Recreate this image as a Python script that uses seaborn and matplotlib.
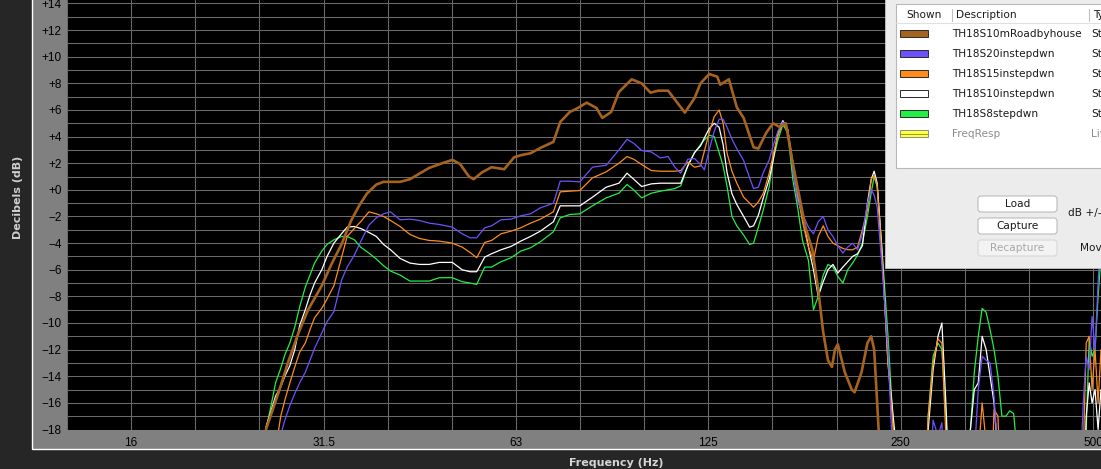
import matplotlib
matplotlib.use('Agg')
import matplotlib.pyplot as plt
import seaborn as sns
from matplotlib.patches import Rectangle, FancyBboxPatch

# Frequency grid (Hz) shared by the four thin traces
freq_hz = [
    25.6, 26.0, 26.5, 27.0, 27.4, 27.9, 28.4, 28.9, 29.5, 30.0, 30.5,
    31.3, 31.9, 32.7, 33.6, 34.3, 35.2, 36.0, 37.1, 38.1, 39.1, 40.1,
    41.5, 43.0, 44.5, 46.1, 47.8, 50.1, 51.9, 53.4, 54.7, 56.3, 57.7,
    59.7, 61.9, 64.1, 66.4, 68.8, 72.1, 73.9, 76.5, 79.3, 83.0, 87.2,
    91.3, 94.0, 96.3, 99.1, 102.6, 106.0, 109.0, 111.7, 114.1, 117.0, 119.9,
    122.5, 124.2, 126.4, 128.7, 131.0, 132.9, 134.8, 137.2, 139.6, 143.1, 146.2, 148.3, 150.9,
    153.6, 156.9, 159.1, 161.9, 164.8, 167.8, 170.8, 173.8, 176.9, 180.7, 184.0,
    187.2, 190.6, 193.9, 197.4, 200.9, 204.6, 208.2, 211.9, 215.7, 219.5, 223.5,
    226.6, 229.0, 231.5, 235.6, 240.7, 245.8, 254.6,
    273.3, 278.2, 283.2, 288.2, 292.3, 296.5, 301.8,
    318.3, 323.9, 328.5, 333.2, 337.9, 342.8, 347.7, 352.7, 357.7, 362.8,
    368.0, 373.2, 378.5, 383.9, 389.4,
    477.9, 486.3, 491.6, 496.9, 502.1, 507.5, 513.1, 518.5,
]

blue_db = [
    -25, -23, -20.5, -18.4, -17.3, -16.2, -15.3, -14.5, -13.7, -12.8, -11.9,
    -10.75, -9.9, -9.15, -6.8, -5.8, -4.9, -3.9, -2.65, -2.1, -1.8, -1.65,
    -2.25, -2.2, -2.3, -2.5, -2.6, -2.8, -3.3, -3.6, -3.6, -2.85, -2.7,
    -2.25, -2.2, -1.95, -1.8, -1.35, -1.0, 0.65, 0.65, 0.6, 1.7, 1.85,
    3.0, 3.8, 3.5, 2.95, 2.85, 2.4, 2.5, 1.7, 1.25, 2.3, 2.35,
    1.9, 1.5, 3.0, 4.4, 5.3, 5.3, 4.7, 3.8, 3.1, 2.2, 0.9, 0.1, 0.2,
    1.3, 2.25, 3.3, 4.4, 5.1, 4.5, 1.5, -0.8, -1.8, -2.8, -3.3,
    -2.4, -2.0, -3.0, -3.5, -4.2, -4.75, -4.3, -4.0, -4.5, -3.3, -1.0,
    0.0, -0.4, -1.3, -5.8, -12, -22, -25,
    -25, -25, -17.3, -18.5, -17.5, -25, -25,
    -25, -25, -20, -15, -12.5, -12.8, -13, -15.5, -20, -25,
    -25, -25, -25, -25, -25,
    -25, -16, -12.5, -13.5, -9.5, -12, -7, -3,
]

orange_db = [
    -25, -22, -19.5, -17, -15.8, -14.5, -13.3, -12.2, -11.5, -10.5, -9.6,
    -8.9, -8.2, -7.2, -5.1, -3.5, -2.9, -2.4, -1.65, -1.8, -2.0, -2.3,
    -2.75, -3.35, -3.65, -3.8, -3.85, -4.0, -4.3, -4.7, -5.1, -3.95, -3.8,
    -3.3, -3.1, -2.85, -2.5, -2.2, -1.65, -0.15, -0.1, -0.05, 0.9, 1.35,
    2.0, 2.5, 2.3, 1.9, 1.45, 1.4, 1.4, 1.4, 1.45, 2.1, 1.7,
    1.8, 2.9, 4.3, 5.5, 6.0, 5.0, 2.75, 1.4, 0.5, -0.55, -1.0, -1.3, -0.9,
    -0.25, 1.25, 2.6, 4.1, 5.0, 4.5, 2.1, -0.2, -2.4, -4.3, -5.3,
    -3.5, -2.7, -3.5, -4.0, -4.2, -4.4, -4.5, -4.5, -4.3, -3.0, -1.5,
    0.8, 1.1, 0.3, -5.0, -13, -18.5, -25,
    -25, -17, -13, -11.2, -11.5, -18.5, -25,
    -25, -25, -25, -20, -16, -19, -25, -16.5, -17, -25,
    -25, -25, -25, -25, -25,
    -25, -20, -11.5, -11, -15, -12, -16, -12,
]

white_db = [
    -17.8, -16.8, -15.5, -14.8, -14.0, -13.2, -12.0, -10.2, -9.0, -7.9, -7.0,
    -6.0, -5.0, -4.0, -3.3, -2.8, -2.75, -2.9, -3.2, -3.5, -4.1, -4.5,
    -5.15, -5.5, -5.6, -5.6, -5.45, -5.45, -6.0, -6.15, -6.15, -5.05, -4.8,
    -4.5, -4.25, -3.85, -3.5, -3.1, -2.4, -1.2, -1.2, -1.2, -0.55, 0.2,
    0.5, 1.25, 0.8, 0.25, 0.45, 0.5, 0.5, 0.5, 0.5, 1.8, 2.8,
    3.3, 3.9, 4.6, 5.0, 4.7, 3.4, 1.3, -0.3, -1.1, -2.0, -2.8, -2.7, -1.9,
    -0.6, 0.8, 2.2, 4.3, 5.2, 4.5, 1.6, -0.6, -2.0, -4.25, -6.0,
    -8.0, -6.9, -6.0, -5.6, -6.25, -5.8, -5.4, -5.0, -4.8, -4.2, -1.0,
    0.8, 1.4, 0.5, -4.7, -13, -17.5, -25,
    -25, -18, -13.5, -11.0, -10.0, -16, -25,
    -25, -18, -15, -14.5, -11.0, -12, -14, -16, -20, -25,
    -25, -25, -25, -25, -25,
    -25, -25, -17, -14.5, -16, -15, -18, -15,
]

green_db = [
    -18, -16.5, -14.5, -13.4, -12.4, -11.5, -10.3, -8.8, -7.3, -6.4, -5.5,
    -4.6, -4.1, -3.75, -3.5, -3.5, -3.75, -4.3, -4.75, -5.2, -5.7, -6.1,
    -6.4, -6.85, -6.85, -6.85, -6.6, -6.6, -6.9, -7.0, -7.1, -5.8, -5.8,
    -5.4, -5.1, -4.6, -4.35, -3.9, -3.15, -2.1, -1.85, -1.8, -1.2, -0.6,
    -0.25, 0.4, 0.0, -0.6, -0.25, -0.1, 0.0, 0.1, 0.3, 1.8, 2.8,
    3.4, 3.75, 4.1, 4.0, 2.8, 1.8, 0.25, -2.0, -2.7, -3.4, -4.1, -4.0, -2.8,
    -1.5, 0.25, 2.25, 3.75, 4.9, 4.3, 0.8, -1.3, -3.8, -5.3, -9.0,
    -8.0, -6.4, -5.6, -5.8, -6.5, -7.0, -6.0, -5.5, -4.9, -4.0, -2.0,
    -0.2, 1.0, 0.25, -4.5, -11, -18.5, -25,
    -25, -17, -12.5, -11.5, -12.0, -17, -25,
    -25, -18, -13.7, -11, -8.9, -9.2, -10.5, -12, -14, -17,
    -17, -16.6, -16.8, -20, -25,
    -25, -25, -18, -11.2, -12.5, -12, -8, -5,
]

# Road-by-house measurement (thick brown trace)
brown_hz = [
    25.6, 26.8, 27.7, 28.7, 29.8, 31.3, 32.4, 33.6, 34.8, 35.8,
    36.8, 38.1, 39.1, 41.5, 43.0, 46.1, 48.3, 50.1, 51.5, 53.2,
    54.1, 55.7, 57.7, 60.4, 62.6, 64.1, 66.4, 68.8, 72.1, 73.9,
    76.5, 78.4, 81.3, 84.2, 86.0, 88.8, 91.3, 95.6, 99.1, 102.3,
    105.2, 109.0, 115.8, 119.9, 122.5, 126.4, 130.1, 131.5, 135.7, 139.6,
    143.1, 148.3, 150.9, 155.3, 159.1, 162.5, 166.6, 170.8, 174.4, 178.8,
    183.3, 187.2, 190.6, 193.9, 196.7, 198.8, 200.9, 206.0, 211.2, 213.4,
    218.8, 223.5, 226.6, 229.0, 231.5, 233.9,
]
brown_db = [
    -18, -15.2, -13.0, -10.9, -9.0, -7.2, -5.6, -4.1, -2.3, -1.2,
    -0.3, 0.4, 0.6, 0.6, 0.8, 1.65, 2.0, 2.25, 1.95, 1.0,
    0.8, 1.3, 1.7, 1.55, 2.45, 2.6, 2.75, 3.15, 3.6, 5.1,
    5.85, 6.1, 6.55, 6.15, 5.4, 5.85, 7.35, 8.3, 8.0, 7.3,
    7.45, 7.45, 5.8, 6.9, 8.0, 8.7, 8.5, 7.9, 8.3, 6.2,
    5.4, 3.2, 3.1, 4.3, 5.0, 4.75, 5.0, 2.0, -0.2, -2.8,
    -4.5, -7.5, -10.7, -12.8, -13.3, -12.0, -11.6, -13.7, -15.0, -15.2,
    -13.7, -11.5, -11.0, -12.0, -16.0, -20,
]

names = ['TH18S10mRoadbyhouse', 'TH18S20instepdwn', 'TH18S15instepdwn',
         'TH18S10instepdwn', 'TH18S8stepdwn', 'FreqResp']
colors = ['#a6631f', '#6e50ff', '#ff8c1a', '#ffffff', '#22ee44', '#ffff40']

x_tick_labels = ['16', '31.5', '63', '125', '250', '500']
y_tick_values = list(range(-18, 15, 2))

sns.set_style('dark')
plt.rcParams['font.family'] = ['DejaVu Sans']

W, H = 1101, 469
fig = plt.figure(figsize=(W / 100, H / 100), dpi=100)
fig.patch.set_facecolor('#262626')

# grey frame behind the graph
under = fig.add_axes([0, 0, 1, 1], zorder=-1)
under.set_xlim(0, W)
under.set_ylim(H, 0)
under.axis('off')
under.add_patch(Rectangle((31.5, -10), 1200, 459.5, facecolor='#808080',
                          edgecolor='white', lw=1.0))

ax = fig.add_axes([67 / W, 1 - 429.5 / H, (W - 67) / W, 429.5 / H], zorder=0)
ax.set_facecolor('black')
for s in ax.spines.values():
    s.set_visible(False)
ax.set_xscale('log')

# traces
for ys, c in zip([green_db, white_db, orange_db, blue_db], colors[4:0:-1]):
    sns.lineplot(x=freq_hz, y=ys, ax=ax, color=c, linewidth=0.9,
                 errorbar=None, legend=False, sort=False)
sns.lineplot(x=brown_hz, y=brown_db, ax=ax, color=colors[0], linewidth=1.9,
             errorbar=None, legend=False, sort=False)

ax.set_xlim(13.38, 518.5)
ax.set_ylim(-18, 14.26)
ax.set_xlabel('')
ax.set_ylabel('')

thirds = [31.5 * 2 ** (k / 3) for k in range(-4, 13)]
major_x = [31.5 * 2 ** k for k in range(-1, 5)]
ax.set_xticks(major_x)
ax.set_xticklabels(x_tick_labels)
ax.set_xticks([f for i, f in enumerate(thirds) if (i - 4) % 3 != 0], minor=True)
ax.set_xticklabels([], minor=True)
ax.set_yticks(y_tick_values)
ax.set_yticklabels([('+%d' % v if v >= 0 else '\u2212%d' % -v) for v in y_tick_values])
ax.set_yticks(list(range(-17, 15, 2)), minor=True)
ax.set_axisbelow(True)
ax.grid(which='both', color='#6b6b6b', linewidth=0.75)
ax.tick_params(which='major', length=3, width=0.8, color='black',
               labelcolor='black', labelsize=8.5)
ax.tick_params(axis='x', which='major', pad=2.5)
ax.tick_params(axis='y', which='major', pad=0.8)
ax.tick_params(which='minor', length=0)
for lab in ax.get_xticklabels() + ax.get_yticklabels():
    lab.set_family('Liberation Sans')

fig.text(616 / W, 1 - 463 / H, 'Frequency (Hz)', color='#d4d4d4', fontsize=8,
         fontweight='bold', ha='center', va='center')
fig.text(18.5 / W, 1 - 197 / H, 'Decibels (dB)', color='#cfcfcf', fontsize=8,
         fontweight='bold', ha='center', va='center', rotation=90)

# overlay: measurement list panel
over = fig.add_axes([0, 0, 1, 1], zorder=5)
over.set_xlim(0, W)
over.set_ylim(H, 0)
over.axis('off')
over.patch.set_alpha(0)
over.add_patch(Rectangle((885, -5), 300, 273, facecolor='#ececec',
                         edgecolor='#c4c4c4', lw=0.6))
over.add_patch(Rectangle((895.5, 4.5), 300, 163.5, facecolor='white',
                         edgecolor='#b8b8b8', lw=0.8))
over.plot([896, 1101], [23, 23], color='#e0e0e0', lw=0.8)
for sx in (952, 1089):
    over.plot([sx, sx], [9, 21], color='#c0c0c0', lw=0.8)
tkw = dict(fontsize=7.6, va='center', color='#1a1a1a')
over.text(924, 15, 'Shown', ha='center', **tkw)
over.text(956, 15, 'Description', ha='left', **tkw)
over.text(1093, 15, 'Type', ha='left', **tkw)
for i, (nm, c) in enumerate(zip(names, colors)):
    yy = 34 + 20 * i
    live = nm == 'FreqResp'
    over.add_patch(Rectangle((900, yy - 3.5), 28, 7, facecolor=c,
                             edgecolor='#8a8a8a' if live else '#2a2a2a', lw=0.7))
    if live:
        over.plot([900, 928], [yy, yy], color='#9a9a20', lw=0.7)
    tc = '#8c8c8c' if live else '#1a1a1a'
    over.text(952, yy, nm, ha='left', fontsize=7.6, va='center', color=tc)
    over.text(1091, yy, 'Live' if live else 'Stored', ha='left', fontsize=7.6,
              va='center', color=tc)

for label, y0, enabled in [('Load', 196, True), ('Capture', 218, True),
                           ('Recapture', 240, False)]:
    over.add_patch(FancyBboxPatch((978, y0), 79, 16,
                                  boxstyle='round,pad=0,rounding_size=3',
                                  facecolor='white' if enabled else '#f3f3f3',
                                  edgecolor='#b4b4b4' if enabled else '#d4d4d4',
                                  lw=0.7))
    over.text(1017.5, y0 + 8, label, ha='center', va='center', fontsize=7.6,
              color='#1a1a1a' if enabled else '#a8a8a8')
over.text(1068, 213, 'dB +/-', ha='left', va='center', fontsize=7.6, color='#1a1a1a')
over.text(1080, 248, 'Move', ha='left', va='center', fontsize=7.6, color='#1a1a1a')

fig.savefig('out.png', dpi=100, facecolor=fig.get_facecolor())
